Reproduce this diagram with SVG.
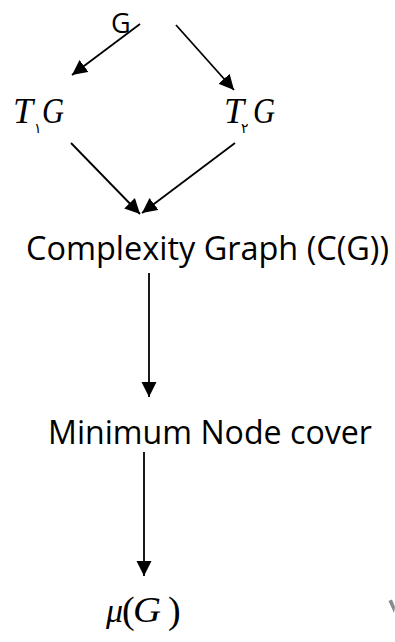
<svg xmlns="http://www.w3.org/2000/svg" width="395" height="642" viewBox="0 0 395 642">
  <style>
    .sans { font-family: "Open Sans", "Liberation Sans", sans-serif; fill: #000; }
    .math { font-family: "Liberation Serif", "DejaVu Serif", serif; fill: #000; }
    .it { font-style: italic; }
    .digit { font-family: "DejaVu Sans", "Noto Sans", sans-serif; font-size: 14px; fill: #000; }
    .edge { stroke: #000; stroke-width: 1.8; fill: none; marker-end: url(#head); }
  </style>
  <defs>
    <marker id="head" markerUnits="userSpaceOnUse" markerWidth="16" markerHeight="16" refX="15" refY="7.5" orient="auto">
      <path d="M0,0 L15,7.5 L0,15 Z" fill="#000"/>
    </marker>
  </defs>
  <rect width="395" height="642" fill="#fff"/>

  <g id="connectors">
    <line class="edge" x1="140" y1="24" x2="72" y2="75"/>
    <line class="edge" x1="176" y1="25" x2="234" y2="90"/>
    <line class="edge" x1="71" y1="143" x2="140" y2="214"/>
    <line class="edge" x1="235" y1="143" x2="142" y2="213"/>
    <line class="edge" x1="149" y1="273" x2="149" y2="397"/>
    <line class="edge" x1="144" y1="452" x2="144" y2="576"/>
  </g>

  <g id="node-g">
    <text class="sans" x="111" y="33" font-size="27">G</text>
  </g>

  <g id="node-t1g">
    <text class="math it" x="13" y="123" font-size="36">T</text>
    <text class="digit" x="34" y="133">١</text>
    <text class="math it" x="42" y="123" font-size="36" textLength="22" lengthAdjust="spacingAndGlyphs">G</text>
  </g>

  <g id="node-t2g">
    <text class="math it" x="224" y="123" font-size="36">T</text>
    <text class="digit" x="241" y="133">٢</text>
    <text class="math it" x="253" y="123" font-size="36" textLength="22" lengthAdjust="spacingAndGlyphs">G</text>
  </g>

  <g id="node-complexity">
    <text class="sans" x="26" y="260" font-size="33" textLength="363" lengthAdjust="spacingAndGlyphs">Complexity Graph (C(G))</text>
  </g>

  <g id="node-cover">
    <text class="sans" x="48" y="444" font-size="33" textLength="324" lengthAdjust="spacingAndGlyphs">Minimum Node cover</text>
  </g>

  <g id="node-mu">
    <text class="math it" x="106" y="622" font-size="34">μ</text>
    <text class="math" x="122" y="623" font-size="38">(</text>
    <text class="math it" x="133" y="622" font-size="35" textLength="28" lengthAdjust="spacingAndGlyphs">G</text>
    <text class="math" x="168" y="623" font-size="38">)</text>
  </g>

  <!-- stray mark at the lower right edge -->
  <path d="M388.5,601 L392,599.5 L395,607 L394,613 Z" fill="#8a8a8a"/>
</svg>
